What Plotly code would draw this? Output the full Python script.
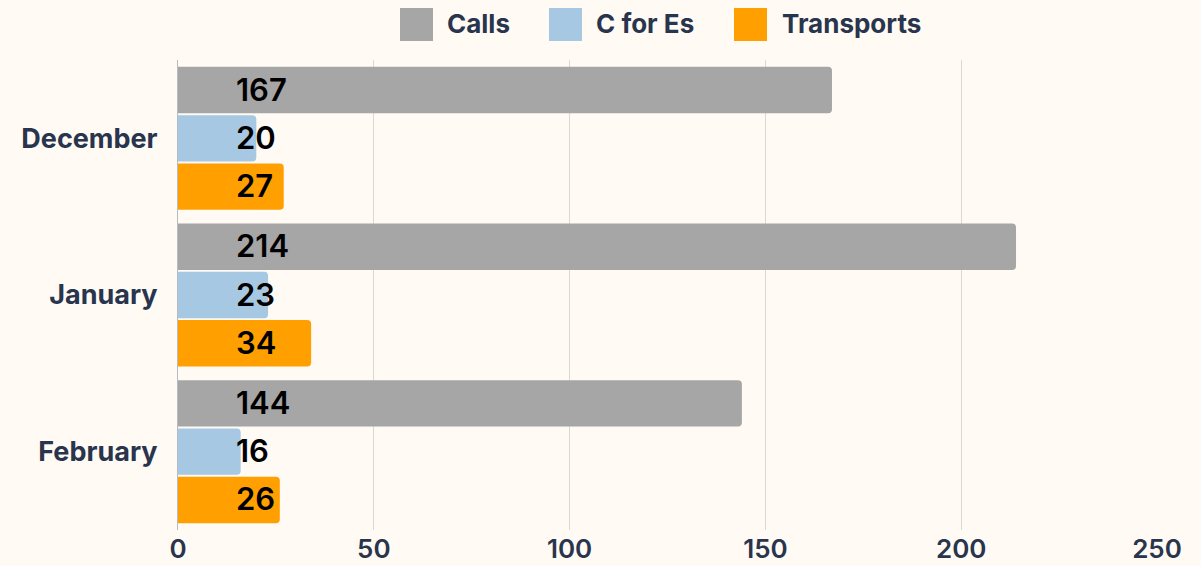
import plotly.graph_objects as go

months = ["December", "January", "February"]
series_names = ["Calls", "C for Es", "Transports"]
calls = [167, 214, 144]
c_for_es = [20, 23, 16]
transports = [27, 34, 26]
x_ticks = [0, 50, 100, 150, 200, 250]

colors = ["#a6a6a6", "#a6c8e2", "#ffa000"]
values = [calls, c_for_es, transports]

FONT = "Inter"
TEXT_COLOR = "#29344d"
BG = "#fffaf4"

W, H = 1201, 566
M = dict(l=178, r=44, t=60, b=36, autoexpand=False)
BARGAP = 0.075

fig = go.Figure()
for name, vals, col in zip(series_names, values, colors):
    fig.add_trace(go.Bar(
        y=months, x=vals, name=name, orientation="h",
        marker=dict(color=col, line=dict(width=0), cornerradius=4),
        showlegend=False, hoverinfo="x+name",
    ))

# value labels anchored at the bar base
plot_h = H - M["t"] - M["b"]
band = plot_h / len(months)
slot = band * (1 - BARGAP) / len(series_names)
annotations = []
for i, vals in enumerate(values):
    for m, v in zip(months, vals):
        annotations.append(dict(
            x=0, y=m, xref="x", yref="y", text=str(v), showarrow=False,
            xanchor="left", xshift=56, yshift=-(i - 1) * slot + 1,
            font=dict(family=FONT, size=31, color="#000000", weight=600),
        ))

# custom legend (large square swatches)
plot_w = W - M["l"] - M["r"]
def px(xp):
    return (xp - M["l"]) / plot_w
def py(yp):
    return (H - M["b"] - yp) / plot_h

legend_items = [(400, 445), (549, 594), (734, 780)]
shapes = []
for (sx, tx), name, col in zip(legend_items, series_names, colors):
    shapes.append(dict(type="rect", xref="paper", yref="paper",
                       x0=px(sx), x1=px(sx + 33), y0=py(41), y1=py(8),
                       fillcolor=col, line=dict(width=0), layer="above"))
    annotations.append(dict(x=px(tx), y=py(24), xref="paper", yref="paper",
                            text=name, showarrow=False, xanchor="left", yanchor="middle",
                            font=dict(family=FONT, size=26, color=TEXT_COLOR, weight=700)))

fig.update_layout(
    width=W, height=H, margin=M,
    paper_bgcolor=BG, plot_bgcolor=BG,
    barmode="group", bargap=BARGAP, bargroupgap=0.04,
    annotations=annotations, shapes=shapes,
    xaxis=dict(range=[0, 250], tickvals=x_ticks, showgrid=True, gridcolor="#d8d8d8",
               gridwidth=1, zeroline=False, showline=False, automargin=False,
               ticks="", ticklabelstandoff=1,
               tickfont=dict(family=FONT, size=26, color=TEXT_COLOR, weight=600)),
    yaxis=dict(autorange="reversed", showgrid=False, showline=True, linecolor="#b5bac3",
               linewidth=1, ticks="outside", ticklen=14, tickcolor="rgba(0,0,0,0)",
               automargin=False,
               tickfont=dict(family=FONT, size=27, color=TEXT_COLOR, weight=700)),
    showlegend=False,
)

fig.write_html("out.html", config={"displayModeBar": False},
               post_script="document.body.style.margin='0';document.body.style.overflow='hidden';")
